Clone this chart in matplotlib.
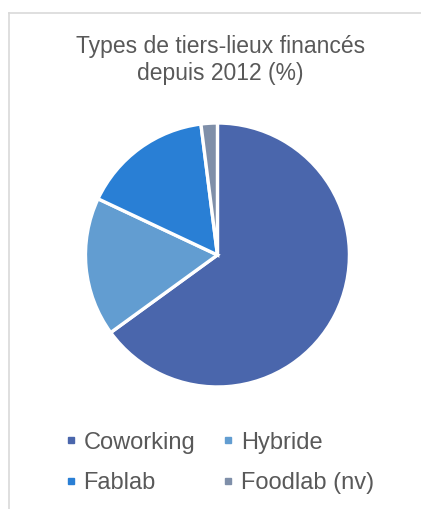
import matplotlib.pyplot as plt
from matplotlib.lines import Line2D

# data
labels = ["Coworking", "Hybride", "Fablab", "Foodlab (nv)"]
values = [65, 17, 16, 2]
colors = ["#4A66AC", "#629DD1", "#297FD5", "#7F8FA9"]
title_lines = ["Types de tiers-lieux financés", "depuis 2012 (%)"]

plt.rcParams['font.family'] = ['Liberation Sans', 'DejaVu Sans']

fig = plt.figure(figsize=(4.21, 5.09), dpi=100)
ax = fig.add_axes([0.203, 0.2397, 0.627, 0.5187])

ax.pie(values, colors=colors, startangle=90, counterclock=False,
       wedgeprops=dict(edgecolor="white", linewidth=2.4))
ax.set_xlim(-1, 1)
ax.set_ylim(-1, 1)
ax.set_aspect("equal")

# light frame (only top and left visible in the crop)
fig.add_artist(Line2D([9/421, 9/421], [0, 1 - 13/509], color="#D9D9D9", lw=1.2))
fig.add_artist(Line2D([9/421, 1], [1 - 13/509, 1 - 13/509], color="#D9D9D9", lw=1.2))

# title, two lines
fig.text(221/421, 1 - 53/509, title_lines[0], ha="center", va="baseline",
         fontsize=16.5, color="#595959")
fig.text(220/421, 1 - 80/509, title_lines[1], ha="center", va="baseline",
         fontsize=16.5, color="#595959")

# legend filled row by row: matplotlib fills columns, so reorder
order = [0, 2, 1, 3]
handles = [Line2D([], [], marker="s", linestyle="", color=colors[i], markersize=5) for i in order]
fig.legend(handles, [labels[i] for i in order], ncol=2, loc="center",
           bbox_to_anchor=(219/421, 1 - 463/509),
           frameon=False, fontsize=17, labelcolor="#595959", handlelength=0.6,
           handletextpad=0.25, columnspacing=1.1, labelspacing=0.8)

fig.savefig("out.png", dpi=100)
